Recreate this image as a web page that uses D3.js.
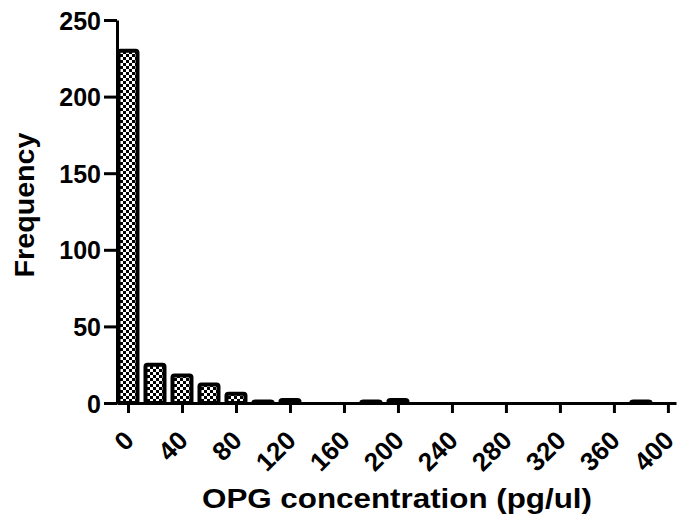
<!DOCTYPE html>
<html>
<head>
<meta charset="utf-8">
<script src="https://cdn.jsdelivr.net/npm/d3@7"></script>
<style>
  body { margin: 0; background: #fff; }
  text { font-family: "Liberation Sans", Arial, sans-serif; font-weight: bold; }
</style>
</head>
<body>
<div id="chart"></div>
<script>
// bin centres (pg/ul) and counts
var binCentres = [0, 20, 40, 60, 80, 100, 120, 140, 160, 180, 200, 220, 240, 260, 280, 300, 320, 340, 360, 380]
var counts     = [230, 25, 18, 12, 6, 1, 2, 0, 0, 1, 2, 0, 0, 0, 0, 0, 0, 0, 0, 1]
var xTicks = [0, 40, 80, 120, 160, 200, 240, 280, 320, 360, 400]
var yTicks = [0, 50, 100, 150, 200, 250]

var width = 684, height = 524
var svg = d3.select('#chart').append('svg')
    .attr('width', width)
    .attr('height', height)

// checkerboard fill
var defs = svg.append('defs')
var pat = defs.append('pattern')
    .attr('id', 'checker')
    .attr('patternUnits', 'userSpaceOnUse')
    .attr('width', 6).attr('height', 6)
pat.append('rect').attr('width', 6).attr('height', 6).attr('fill', '#fff')
pat.append('rect').attr('width', 3).attr('height', 3).attr('fill', '#000')
pat.append('rect').attr('x', 3).attr('y', 3).attr('width', 3).attr('height', 3).attr('fill', '#000')

var x = d3.scaleLinear().domain([-8.15, 406]).range([117, 676])
var y = d3.scaleLinear().domain([0, 250]).range([403, 20])
var binW = 20

// bars
svg.append('g').selectAll('rect')
    .data(counts.map(function(c, i) { return {x: binCentres[i], c: c} }).filter(function(d) { return d.c > 0 }))
    .enter().append('rect')
    .attr('x', function(d) { return x(d.x - binW / 2) + 4 })
    .attr('width', function(d) { return x(d.x + binW / 2) - x(d.x - binW / 2) - 8 })
    .attr('y', function(d) { return y(d.c) })
    .attr('height', function(d) { return y(0) - y(d.c) })
    .attr('rx', 2)
    .attr('fill', 'url(#checker)')
    .attr('stroke', '#000')
    .attr('stroke-width', 4)

// y axis
var yAxis = svg.append('g')
    .attr('transform', 'translate(117,0)')
    .call(d3.axisLeft(y).tickValues(yTicks).tickSize(13).tickPadding(3).tickSizeOuter(0))
yAxis.select('.domain').attr('stroke-width', 3)
yAxis.selectAll('.tick line').attr('stroke-width', 3)
yAxis.selectAll('.tick text')
    .attr('font-size', 25)
    .attr('fill', '#000')
    .attr('dy', '0.36em')

// x axis
var xAxis = svg.append('g')
    .attr('transform', 'translate(0,403)')
    .call(d3.axisBottom(x).tickValues(xTicks).tickSize(10).tickSizeOuter(0))
xAxis.select('.domain').attr('stroke-width', 3)
xAxis.selectAll('.tick line').attr('stroke-width', 3)
xAxis.selectAll('.tick text')
    .attr('font-size', 26)
    .attr('fill', '#000')
    .attr('text-anchor', 'end')
    .attr('dy', null)
    .attr('y', 0)
    .attr('transform', 'translate(7,39) rotate(-45)')

// titles
svg.append('text')
    .attr('transform', 'translate(34,205) rotate(-90)')
    .attr('text-anchor', 'middle')
    .attr('font-size', 27)
    .attr('textLength', 145)
    .attr('lengthAdjust', 'spacingAndGlyphs')
    .text('Frequency')

svg.append('text')
    .attr('x', 397)
    .attr('y', 508)
    .attr('text-anchor', 'middle')
    .attr('font-size', 27)
    .attr('textLength', 390)
    .attr('lengthAdjust', 'spacingAndGlyphs')
    .text('OPG concentration (pg/ul)')
</script>
</body>
</html>
